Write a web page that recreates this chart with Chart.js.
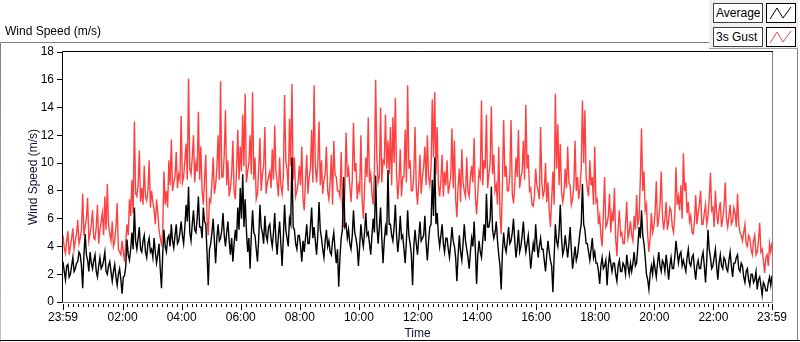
<!DOCTYPE html>
<html>
<head>
<meta charset="utf-8">
<script src="https://cdn.jsdelivr.net/npm/chart.js@4.4.0/dist/chart.umd.min.js"></script>
<style>
  body { margin: 0; background: #fff; font-family: "Liberation Sans", Arial, sans-serif; }
  #wrap { position: relative; width: 800px; height: 342px; overflow: hidden; }
  #windChart { position: absolute; left: 0; top: 0; }
  .lbl { position: absolute; font-size: 12px; line-height: 15px; color: #000; white-space: nowrap; }
  #legendPanel { position: absolute; left: 709px; top: 0; width: 89px; height: 48px; background: #f0f0f0; border-bottom: 1px solid #a0a0a0; }
  .lgText { position: absolute; left: 713px; width: 50px; height: 20px; box-sizing: border-box; background: #fff;
            border: 1px solid #404040; font-size: 12px; line-height: 18px; padding-left: 2px; }
  .lgIcon { position: absolute; left: 766px; width: 30px; height: 20px; box-sizing: border-box; background: #fff; border: 1px solid #000; }
</style>
</head>
<body>
<div id="wrap">
  <canvas id="windChart" width="800" height="342"></canvas>
  <div class="lbl" style="left:5px; top:24px;">Wind Speed (m/s)</div>
  <div id="legendPanel"></div>
  <div class="lgText" style="top:3px;">Average</div>
  <div class="lgIcon" style="top:3px;"><svg width="28" height="18"><polyline points="3,15 10,4 16,14 24,3" fill="none" stroke="#000" stroke-width="1"/></svg></div>
  <div class="lgText" style="top:27px;">3s Gust</div>
  <div class="lgIcon" style="top:27px;"><svg width="28" height="18"><polyline points="3,15 10,4 16,14 24,3" fill="none" stroke="#ff4040" stroke-width="1"/></svg></div>
</div>
<script>
// samples every 5 minutes from 23:59 (one row per hour), plus the
// in-between reading at +2.5 min for each interval
const sampleStep = 5;

const gustSpeed = [
  4.8, 3.5, 5.1, 4.0, 5.3, 4.4, 5.9, 4.6, 7.8, 5.4, 7.5, 4.9,
  6.6, 4.5, 7.0, 5.2, 6.4, 7.6, 8.5, 4.9, 5.8, 4.4, 7.1, 3.6,
  4.4, 2.9, 5.6, 7.4, 8.8, 13.0, 7.6, 10.9, 8.2, 9.8, 7.3, 10.2,
  8.0, 6.6, 7.4, 5.2, 4.2, 9.4, 8.0, 10.2, 11.7, 8.6, 10.8, 9.2,
  13.4, 9.0, 11.4, 16.1, 9.2, 12.0, 10.0, 13.7, 11.2, 7.0, 10.6, 4.8,
  7.2, 10.4, 8.4, 12.0, 15.9, 9.0, 13.8, 10.2, 8.2, 11.6, 7.4, 12.4,
  11.2, 13.5, 15.0, 9.4, 12.0, 15.1, 10.4, 7.8, 11.8, 9.2, 12.6, 8.6,
  9.4, 11.0, 12.7, 8.6, 10.4, 7.8, 14.9, 9.6, 13.2, 15.7, 10.4, 8.0,
  9.8, 11.2, 6.6, 10.6, 9.0, 12.4, 15.6, 8.6, 13.0, 10.2, 8.8, 11.2,
  7.4, 10.6, 11.6, 9.0, 8.0, 10.8, 5.4, 12.2, 9.6, 7.2, 12.9, 10.0,
  8.4, 12.0, 6.0, 10.4, 13.3, 9.2, 7.0, 16.0, 8.6, 14.0, 10.2, 13.5,
  11.6, 12.6, 13.3, 14.7, 7.4, 11.0, 9.0, 12.4, 15.6, 10.2, 8.0, 12.6,
  7.0, 10.6, 9.0, 11.2, 12.0, 8.4, 14.6, 15.1, 12.6, 7.6, 10.6, 9.4,
  10.2, 8.4, 12.5, 11.6, 6.1, 9.6, 11.0, 8.0, 10.4, 7.6, 9.8, 11.8,
  6.3, 9.4, 14.5, 10.2, 13.5, 9.2, 14.1, 10.6, 8.4, 11.2, 4.9, 13.1,
  9.8, 8.0, 13.1, 7.1, 10.4, 12.4, 9.0, 11.6, 14.2, 10.6, 8.2, 6.9,
  9.6, 8.0, 12.6, 7.6, 10.0, 8.6, 5.4, 9.4, 15.0, 12.8, 11.4, 7.2,
  9.6, 11.2, 8.4, 7.4, 11.6, 9.0, 8.2, 14.5, 13.8, 8.2, 10.2, 9.0,
  11.2, 7.4, 6.2, 4.0, 9.0, 5.6, 7.8, 6.4, 8.2, 3.3, 6.6, 5.0,
  4.2, 7.2, 5.0, 4.8, 6.2, 7.7, 6.0, 12.5, 9.4, 7.0, 3.6, 6.4,
  5.4, 8.7, 6.0, 9.4, 5.2, 7.2, 5.8, 6.6, 5.0, 9.7, 7.6, 8.4,
  10.7, 8.6, 7.2, 6.2, 4.9, 7.7, 6.4, 8.0, 5.6, 7.0, 6.2, 9.3,
  6.8, 8.0, 5.6, 7.2, 6.0, 8.6, 5.4, 7.0, 5.8, 6.4, 7.8, 5.0,
  4.4, 5.6, 4.0, 4.6, 3.4, 4.8, 3.6, 5.7, 3.8, 2.1, 3.4, 4.2,
  4.3
];

const gustMid = [
  3.9, 4.4, 3.4, 4.6, 3.8, 4.9, 4.2, 5.2, 4.8, 6.0, 4.4, 5.6,
  4.6, 5.4, 4.2, 5.8, 4.8, 5.2, 5.6, 4.4, 4.0, 5.4, 3.8, 3.4,
  3.6, 4.4, 4.8, 6.2, 6.4, 7.8, 8.4, 7.2, 7.0, 7.6, 8.0, 6.8,
  7.2, 5.6, 6.4, 4.6, 5.0, 7.0, 6.8, 8.4, 8.0, 9.0, 8.2, 8.8,
  8.6, 10.2, 8.8, 9.6, 10.4, 8.6, 9.4, 8.8, 8.0, 8.8, 6.0, 7.4,
  8.6, 7.8, 9.6, 8.8, 9.0, 10.6, 8.4, 7.6, 9.2, 8.0, 9.6, 8.8,
  9.4, 9.8, 8.6, 10.0, 9.2, 8.8, 7.4, 9.6, 8.0, 9.8, 7.8, 9.0,
  8.2, 8.8, 9.4, 7.6, 8.4, 9.0, 10.2, 8.0, 9.8, 8.8, 7.6, 8.6,
  8.4, 7.4, 8.8, 7.8, 9.6, 8.6, 9.8, 10.0, 8.4, 7.8, 9.2, 8.0,
  8.6, 7.0, 9.2, 8.0, 7.6, 6.8, 8.2, 9.0, 8.4, 8.8, 9.4, 7.4,
  8.0, 7.4, 8.2, 9.0, 8.6, 7.8, 9.4, 10.2, 9.0, 8.6, 10.0, 9.6,
  9.2, 8.4, 10.0, 9.2, 8.8, 7.6, 9.0, 8.6, 9.6, 8.0, 9.2, 8.2,
  8.6, 7.8, 9.8, 8.4, 9.0, 9.6, 10.4, 9.2, 8.4, 8.8, 7.6, 8.4,
  7.8, 9.0, 8.2, 7.4, 8.4, 7.2, 8.6, 7.6, 8.0, 9.0, 8.6, 7.6,
  7.8, 9.0, 8.4, 9.6, 8.2, 10.0, 9.2, 8.0, 7.0, 6.4, 8.6, 9.0,
  8.0, 9.2, 7.8, 8.4, 9.0, 8.2, 9.4, 8.8, 9.6, 8.0, 7.0, 7.6,
  8.4, 7.4, 8.6, 8.0, 7.2, 6.6, 7.4, 7.0, 9.6, 8.4, 8.0, 7.8,
  8.2, 8.6, 7.0, 8.4, 8.0, 7.4, 9.6, 10.0, 9.0, 7.6, 8.4, 7.0,
  7.2, 5.6, 4.8, 6.4, 5.4, 6.2, 5.0, 5.8, 4.6, 5.4, 4.8, 4.2,
  5.6, 4.6, 5.8, 4.4, 5.2, 5.6, 8.8, 8.0, 6.6, 4.8, 4.6, 5.0,
  6.4, 5.4, 7.0, 6.2, 6.0, 5.2, 6.8, 5.4, 6.2, 7.0, 6.6, 6.0,
  8.0, 6.4, 5.8, 5.0, 5.8, 5.6, 7.0, 5.6, 6.4, 5.6, 7.4, 6.6,
  5.4, 6.4, 6.6, 5.4, 6.8, 6.0, 6.2, 5.6, 6.8, 5.4, 5.6, 4.8,
  5.0, 4.2, 4.8, 3.8, 4.4, 3.4, 4.4, 3.6, 3.0, 3.2, 2.6, 3.6
];

const avgSpeed = [
  2.9, 1.6, 2.7, 2.0, 3.2, 2.4, 2.9, 3.4, 1.0, 4.9, 3.0, 3.6,
  2.4, 3.4, 1.8, 3.2, 2.6, 3.6, 2.0, 2.9, 1.5, 2.7, 1.2, 2.4,
  0.6, 1.9, 4.5, 3.0, 5.0, 6.8, 3.8, 5.4, 3.6, 4.8, 3.2, 4.6,
  3.8, 4.6, 2.8, 4.2, 1.0, 5.2, 3.6, 4.8, 5.6, 3.9, 5.6, 4.4,
  5.8, 4.2, 7.0, 8.3, 4.4, 6.6, 5.0, 7.6, 5.4, 6.8, 5.6, 1.2,
  4.2, 6.0, 2.8, 5.6, 4.6, 6.4, 4.0, 5.8, 3.4, 2.9, 5.2, 6.8,
  8.2, 9.2, 7.4, 3.6, 2.4, 6.6, 4.8, 2.9, 7.0, 5.0, 6.2, 4.4,
  5.6, 4.0, 6.4, 3.4, 5.8, 2.6, 7.0, 4.6, 6.0, 10.4, 5.2, 3.8,
  4.8, 2.9, 3.6, 5.6, 4.2, 6.8, 5.4, 3.4, 7.2, 4.6, 3.2, 5.2,
  4.4, 3.4, 5.0, 2.8, 1.1, 4.6, 9.0, 5.6, 5.2, 3.8, 6.6, 4.6,
  2.6, 5.6, 4.0, 6.4, 5.0, 3.4, 6.0, 9.1, 4.2, 6.8, 2.8, 5.4,
  9.5, 5.6, 4.4, 7.0, 3.6, 6.2, 4.8, 2.8, 6.6, 4.2, 1.2, 5.2,
  3.4, 5.8, 4.6, 6.2, 3.0, 5.4, 8.8, 10.4, 6.4, 4.0, 5.6, 3.6,
  4.6, 3.2, 5.4, 4.0, 1.5, 4.8, 3.0, 5.6, 3.8, 2.4, 4.6, 5.8,
  1.3, 4.4, 3.2, 5.6, 7.8, 5.4, 8.3, 4.6, 5.8, 3.4, 0.9, 5.0,
  3.6, 5.4, 4.4, 6.0, 3.2, 5.2, 4.0, 5.8, 3.6, 4.8, 2.4, 4.2,
  5.6, 3.2, 4.6, 3.8, 2.2, 4.4, 3.0, 0.7, 5.6, 4.0, 7.0, 3.4,
  4.8, 3.2, 5.4, 2.4, 4.0, 3.4, 5.0, 8.5, 5.2, 4.2, 3.0, 4.6,
  3.6, 2.8, 1.3, 3.2, 2.6, 1.2, 3.4, 2.2, 2.8, 1.5, 3.0, 2.2,
  2.6, 3.4, 2.0, 2.2, 3.6, 2.8, 5.4, 6.6, 4.2, 2.0, 0.9, 2.6,
  3.0, 1.8, 3.6, 2.2, 2.8, 3.4, 1.6, 3.2, 2.4, 4.4, 2.8, 3.6,
  3.0, 2.2, 3.8, 2.6, 3.4, 1.6, 3.0, 2.4, 3.6, 1.4, 5.2, 3.2,
  2.6, 3.8, 1.6, 3.4, 2.4, 3.0, 2.2, 3.6, 1.8, 2.8, 3.4, 2.2,
  2.6, 1.4, 2.4, 1.2, 2.0, 1.6, 0.9, 1.8, 0.5, 1.2, 0.8, 1.8,
  1.9
];

const avgMid = [
  2.2, 2.6, 1.8, 2.6, 2.2, 2.8, 3.6, 2.6, 3.4, 3.4, 2.2, 2.8,
  3.0, 2.2, 2.6, 2.4, 3.0, 2.2, 2.6, 2.2, 2.2, 1.8, 2.0, 1.6,
  1.8, 2.6, 3.4, 3.8, 3.8, 4.4, 4.6, 3.8, 4.4, 3.6, 4.2, 3.6,
  3.2, 3.6, 3.4, 2.4, 3.4, 4.0, 4.6, 4.0, 4.4, 4.8, 4.2, 5.0,
  4.8, 5.4, 5.8, 5.0, 5.6, 5.2, 6.0, 5.4, 4.6, 5.8, 3.6, 3.8,
  5.0, 4.4, 4.6, 4.4, 5.2, 4.8, 5.0, 4.4, 4.6, 4.2, 4.4, 5.2,
  6.0, 5.4, 5.2, 4.6, 4.8, 5.0, 3.8, 4.6, 5.4, 4.2, 4.8, 5.4,
  4.6, 5.0, 4.4, 4.8, 4.2, 4.6, 5.2, 4.0, 5.6, 5.4, 4.2, 4.8,
  4.0, 4.4, 4.6, 4.2, 5.4, 4.6, 4.4, 4.8, 5.2, 3.8, 4.4, 4.0,
  3.6, 4.4, 3.8, 3.8, 3.2, 5.2, 5.4, 4.6, 4.2, 4.8, 5.0, 4.0,
  4.0, 4.6, 5.0, 4.8, 4.2, 4.8, 5.0, 5.6, 5.4, 4.6, 4.4, 4.8,
  5.6, 4.8, 5.4, 4.8, 4.6, 4.6, 3.8, 4.4, 4.8, 3.4, 4.0, 4.2,
  4.6, 4.4, 4.8, 4.2, 4.4, 5.6, 6.2, 5.6, 4.8, 4.8, 4.2, 4.6,
  3.8, 4.2, 4.4, 3.2, 3.4, 3.6, 4.2, 4.4, 3.2, 3.6, 4.0, 3.8,
  3.4, 3.6, 4.4, 4.4, 5.4, 6.0, 5.2, 5.0, 4.4, 2.6, 3.6, 4.0,
  4.4, 4.2, 5.0, 4.4, 4.0, 3.6, 4.8, 4.4, 4.2, 3.6, 3.4, 3.6,
  4.2, 4.0, 3.8, 3.0, 3.4, 3.6, 2.6, 3.2, 4.4, 5.0, 4.6, 3.8,
  4.0, 4.2, 3.8, 3.2, 3.0, 4.2, 5.6, 5.6, 4.2, 3.6, 3.8, 3.2,
  2.8, 2.2, 2.6, 2.4, 3.0, 2.6, 2.8, 2.8, 2.0, 2.6, 2.2, 2.8,
  2.0, 2.6, 2.8, 2.8, 2.6, 4.0, 4.6, 4.8, 3.2, 1.6, 2.0, 2.0,
  2.4, 2.8, 2.6, 3.0, 2.2, 2.6, 2.6, 2.4, 3.2, 3.6, 3.4, 2.6,
  2.6, 3.2, 2.8, 3.2, 2.4, 2.6, 2.4, 3.2, 2.6, 3.0, 3.8, 2.4,
  3.2, 2.6, 2.8, 2.6, 3.2, 2.4, 3.0, 2.6, 2.8, 3.2, 2.4, 2.8,
  1.8, 2.2, 1.6, 2.0, 1.4, 2.2, 1.6, 1.2, 1.4, 0.8, 1.4, 1.2
];

// minutes after 23:59 where the time labels sit
const tickMinutes = [0, 121, 241, 361, 481, 601, 721, 841, 961, 1081, 1201, 1321, 1440];
const tickLabels = ["23:59", "02:00", "04:00", "06:00", "08:00", "10:00", "12:00",
                    "14:00", "16:00", "18:00", "20:00", "22:00", "23:59"];
const yTicks = [0, 2, 4, 6, 8, 10, 12, 14, 16, 18];

function toPoints(values, mids) {
    const pts = [];
    values.forEach(function (v, i) {
        pts.push({ x: i * sampleStep, y: v });
        if (i < mids.length) pts.push({ x: i * sampleStep + sampleStep / 2, y: mids[i] });
    });
    return pts;
}

// LabVIEW style frame, plot border and the small time ticks
const framePlugin = {
    id: "frame",
    afterDraw: function (chart) {
        const ctx = chart.ctx;
        const a = chart.chartArea;
        const x = chart.scales.x;
        ctx.save();
        ctx.lineWidth = 1;

        // outer frame
        ctx.strokeStyle = "#808080";
        ctx.beginPath();
        ctx.moveTo(0, 342); ctx.lineTo(0.5, 42.5); ctx.lineTo(709, 42.5);
        ctx.moveTo(797.5, 48); ctx.lineTo(797.5, 341);
        ctx.stroke();
        ctx.strokeStyle = "#000";
        ctx.beginPath();
        ctx.moveTo(0, 340.5); ctx.lineTo(800, 340.5);
        ctx.stroke();

        // plot border
        ctx.strokeStyle = "#000";
        ctx.beginPath();
        ctx.moveTo(a.left - 0.5, a.bottom); ctx.lineTo(a.left - 0.5, a.top - 0.5); ctx.lineTo(a.right + 1, a.top - 0.5);
        ctx.stroke();
        ctx.strokeStyle = "#808080";
        ctx.beginPath();
        ctx.moveTo(a.right + 0.5, a.top); ctx.lineTo(a.right + 0.5, a.bottom + 0.5); ctx.lineTo(a.left - 1, a.bottom + 0.5);
        ctx.stroke();

        // minor ticks every 10 min, major at labels
        ctx.strokeStyle = "#000";
        ctx.beginPath();
        for (let m = 11; m < 1440; m += 10) {
            const px = Math.round(x.getPixelForValue(m)) + 0.5;
            ctx.moveTo(px, a.bottom + 2); ctx.lineTo(px, a.bottom + 5);
        }
        tickMinutes.forEach(function (m) {
            const px = Math.round(x.getPixelForValue(m)) + 0.5;
            ctx.moveTo(px, a.bottom + 2); ctx.lineTo(px, a.bottom + 8);
        });
        ctx.stroke();
        ctx.restore();
    }
};

const ctx = document.getElementById("windChart").getContext("2d");

new Chart(ctx, {
    type: "line",
    data: {
        datasets: [{
            label: "Average",
            data: toPoints(avgSpeed, avgMid),
            borderColor: "#000000",
            borderWidth: 1.4,
            pointRadius: 0,
            tension: 0
        }, {
            label: "3s Gust",
            data: toPoints(gustSpeed, gustMid),
            borderColor: "#ff4040",
            borderWidth: 1.4,
            pointRadius: 0,
            tension: 0
        }]
    },
    options: {
        responsive: false,
        animation: false,
        layout: { padding: { left: 0, top: 52, right: 28, bottom: 0 } },
        plugins: {
            legend: { display: false },
            tooltip: { enabled: false }
        },
        scales: {
            x: {
                type: "linear",
                min: 0,
                max: 1440,
                afterFit: function (s) { s.height = 40; },
                afterBuildTicks: function (s) { s.ticks = tickMinutes.map(function (v) { return { value: v }; }); },
                grid: { display: false, drawTicks: false },
                border: { display: false },
                ticks: {
                    autoSkip: false,
                    maxRotation: 0,
                    padding: 8,
                    color: "#000",
                    font: { family: "Liberation Sans", size: 12 },
                    callback: function (v) { return tickLabels[tickMinutes.indexOf(v)]; }
                },
                title: {
                    display: true,
                    text: "Time",
                    color: "#0b1633",
                    font: { family: "Liberation Sans", size: 12 },
                    padding: { top: 0, bottom: 1 }
                }
            },
            y: {
                min: 0,
                max: 18,
                afterFit: function (s) { s.width = 63; },
                afterBuildTicks: function (s) { s.ticks = yTicks.map(function (v) { return { value: v }; }); },
                grid: { drawOnChartArea: false, drawTicks: true, tickLength: 6, color: "#000" },
                border: { display: false },
                ticks: {
                    padding: 3,
                    color: "#000",
                    font: { family: "Liberation Sans", size: 12 }
                },
                title: {
                    display: true,
                    text: "Wind Speed (m/s)",
                    color: "#0b1633",
                    font: { family: "Liberation Sans", size: 12 },
                    padding: { top: 26, bottom: 0 }
                }
            }
        }
    },
    plugins: [framePlugin]
});
</script>
</body>
</html>
